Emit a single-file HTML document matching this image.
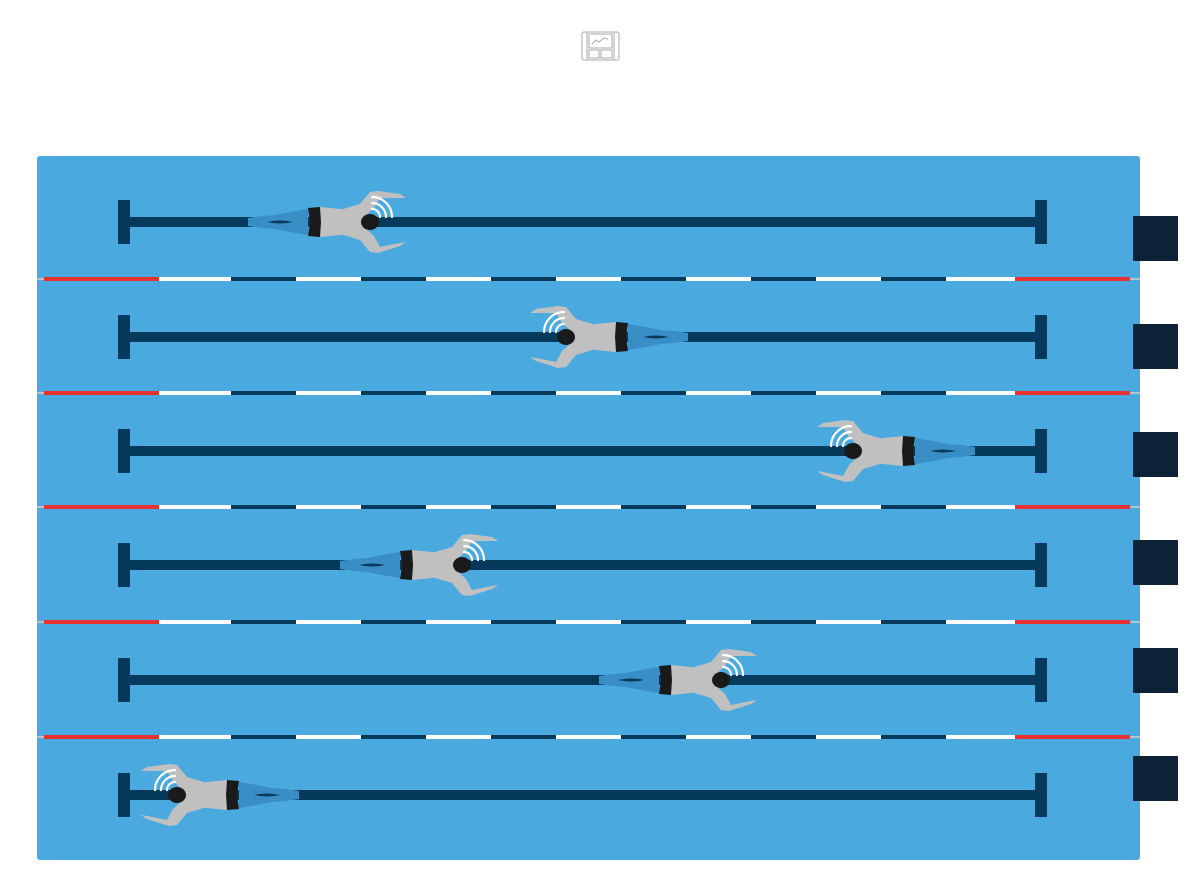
<!DOCTYPE html>
<html><head><meta charset="utf-8"><style>
html,body{margin:0;padding:0;background:#fff;width:1200px;height:895px;overflow:hidden}
</style></head><body>
<svg width="1200" height="895" viewBox="0 0 1200 895" xmlns="http://www.w3.org/2000/svg">
<g fill="none" stroke="#aaa" stroke-width="1">
  <rect x="582" y="32" width="37" height="28" rx="2"/>
  <line x1="587" y1="32" x2="587" y2="60"/><line x1="614" y1="32" x2="614" y2="60"/>
  <rect x="589" y="34" width="23" height="14"/>
  <rect x="589" y="50" width="10" height="8"/><rect x="601" y="50" width="11" height="8"/>
  <polyline points="592,44 596,40 599,42 604,38 608,39"/>
</g>
<rect x="37" y="156" width="1103" height="704" rx="3" fill="#4aaae0"/>

<!-- lane dividers -->
<g>
<line x1="37" y1="279" x2="1140" y2="279" stroke="#b0c4d0" stroke-width="2"/>
<line x1="37" y1="393" x2="1140" y2="393" stroke="#b0c4d0" stroke-width="2"/>
<line x1="37" y1="507" x2="1140" y2="507" stroke="#b0c4d0" stroke-width="2"/>
<line x1="37" y1="622" x2="1140" y2="622" stroke="#b0c4d0" stroke-width="2"/>
<line x1="37" y1="737" x2="1140" y2="737" stroke="#b0c4d0" stroke-width="2"/>
</g>
<g stroke-width="4">
<g stroke="#e83030">
<line x1="44" y1="279" x2="159" y2="279"/><line x1="1015" y1="279" x2="1130" y2="279"/>
<line x1="44" y1="393" x2="159" y2="393"/><line x1="1015" y1="393" x2="1130" y2="393"/>
<line x1="44" y1="507" x2="159" y2="507"/><line x1="1015" y1="507" x2="1130" y2="507"/>
<line x1="44" y1="622" x2="159" y2="622"/><line x1="1015" y1="622" x2="1130" y2="622"/>
<line x1="44" y1="737" x2="159" y2="737"/><line x1="1015" y1="737" x2="1130" y2="737"/>
</g>
<g stroke="#ffffff">
<line x1="159" y1="279" x2="1015" y2="279"/>
<line x1="159" y1="393" x2="1015" y2="393"/>
<line x1="159" y1="507" x2="1015" y2="507"/>
<line x1="159" y1="622" x2="1015" y2="622"/>
<line x1="159" y1="737" x2="1015" y2="737"/>
</g>
<g stroke="#053a5c" stroke-dasharray="65 65">
<line x1="231" y1="279" x2="946" y2="279"/>
<line x1="231" y1="393" x2="946" y2="393"/>
<line x1="231" y1="507" x2="946" y2="507"/>
<line x1="231" y1="622" x2="946" y2="622"/>
<line x1="231" y1="737" x2="946" y2="737"/>
</g>
</g>

<!-- ropes and bars -->
<g fill="#053a5c">
<rect x="118" y="200" width="12" height="44"/><rect x="1035" y="200" width="12" height="44"/><rect x="125" y="217" width="915" height="10"/>
<rect x="118" y="315" width="12" height="44"/><rect x="1035" y="315" width="12" height="44"/><rect x="125" y="332" width="915" height="10"/>
<rect x="118" y="429" width="12" height="44"/><rect x="1035" y="429" width="12" height="44"/><rect x="125" y="446" width="915" height="10"/>
<rect x="118" y="543" width="12" height="44"/><rect x="1035" y="543" width="12" height="44"/><rect x="125" y="560" width="915" height="10"/>
<rect x="118" y="658" width="12" height="44"/><rect x="1035" y="658" width="12" height="44"/><rect x="125" y="675" width="915" height="10"/>
<rect x="118" y="773" width="12" height="44"/><rect x="1035" y="773" width="12" height="44"/><rect x="125" y="790" width="915" height="10"/>
</g>
<g fill="#0d2137">
<rect x="1133" y="216" width="45" height="45"/>
<rect x="1133" y="324" width="45" height="45"/>
<rect x="1133" y="432" width="45" height="45"/>
<rect x="1133" y="540" width="45" height="45"/>
<rect x="1133" y="648" width="45" height="45"/>
<rect x="1133" y="756" width="45" height="45"/>
</g>

<!-- swimmers -->
<g transform="translate(370,222)">
  <path d="M-62,-13 L-80,-10 L-95,-7 L-108,-6 L-122,-4 L-122,4 L-108,6 L-95,7 L-80,10 L-62,13 Z" fill="#3a8ec6"/>
  <path d="M-103,0 Q-90,-3 -77,0 Q-90,3 -103,0 Z" fill="#0a3a5c"/>
  <path d="M-30,-12 L-10,-18 L0,-30 L8,-31 L30,-28 L36,-24 L30,-24 L10,-24 L4,-14 L-5,-6 Z" fill="#c0c0c0"/>
  <path d="M-30,12 L-10,18 L0,30 L8,31 L30,24 L36,20 L30,21 L10,25 L4,14 L-5,6 Z" fill="#c0c0c0"/>
  <path d="M-50,-15 L-30,-13 L-14,-9 L-6,-6 L-6,6 L-14,9 L-30,13 L-50,15 Z" fill="#c0c0c0"/>
  <path d="M-62,-14 L-50,-15 L-49,0 L-50,15 L-62,14 L-60,0 Z" fill="#1a1a1a"/>
  <ellipse cx="0" cy="0" rx="9" ry="8" fill="#1a1a1a"/>
  <g fill="none" stroke="#fff" stroke-width="2.2" stroke-linecap="round"><path d="M2,-13 A8,8 0 0 1 10,-5"/><path d="M2,-19 A14,14 0 0 1 16,-5"/><path d="M2,-25 A20,20 0 0 1 22,-5"/></g>
</g>
<g transform="translate(566,337) scale(-1,1)">
  <path d="M-62,-13 L-80,-10 L-95,-7 L-108,-6 L-122,-4 L-122,4 L-108,6 L-95,7 L-80,10 L-62,13 Z" fill="#3a8ec6"/>
  <path d="M-103,0 Q-90,-3 -77,0 Q-90,3 -103,0 Z" fill="#0a3a5c"/>
  <path d="M-30,-12 L-10,-18 L0,-30 L8,-31 L30,-28 L36,-24 L30,-24 L10,-24 L4,-14 L-5,-6 Z" fill="#c0c0c0"/>
  <path d="M-30,12 L-10,18 L0,30 L8,31 L30,24 L36,20 L30,21 L10,25 L4,14 L-5,6 Z" fill="#c0c0c0"/>
  <path d="M-50,-15 L-30,-13 L-14,-9 L-6,-6 L-6,6 L-14,9 L-30,13 L-50,15 Z" fill="#c0c0c0"/>
  <path d="M-62,-14 L-50,-15 L-49,0 L-50,15 L-62,14 L-60,0 Z" fill="#1a1a1a"/>
  <ellipse cx="0" cy="0" rx="9" ry="8" fill="#1a1a1a"/>
  <g fill="none" stroke="#fff" stroke-width="2.2" stroke-linecap="round"><path d="M2,-13 A8,8 0 0 1 10,-5"/><path d="M2,-19 A14,14 0 0 1 16,-5"/><path d="M2,-25 A20,20 0 0 1 22,-5"/></g>
</g>
<g transform="translate(853,451) scale(-1,1)">
  <path d="M-62,-13 L-80,-10 L-95,-7 L-108,-6 L-122,-4 L-122,4 L-108,6 L-95,7 L-80,10 L-62,13 Z" fill="#3a8ec6"/>
  <path d="M-103,0 Q-90,-3 -77,0 Q-90,3 -103,0 Z" fill="#0a3a5c"/>
  <path d="M-30,-12 L-10,-18 L0,-30 L8,-31 L30,-28 L36,-24 L30,-24 L10,-24 L4,-14 L-5,-6 Z" fill="#c0c0c0"/>
  <path d="M-30,12 L-10,18 L0,30 L8,31 L30,24 L36,20 L30,21 L10,25 L4,14 L-5,6 Z" fill="#c0c0c0"/>
  <path d="M-50,-15 L-30,-13 L-14,-9 L-6,-6 L-6,6 L-14,9 L-30,13 L-50,15 Z" fill="#c0c0c0"/>
  <path d="M-62,-14 L-50,-15 L-49,0 L-50,15 L-62,14 L-60,0 Z" fill="#1a1a1a"/>
  <ellipse cx="0" cy="0" rx="9" ry="8" fill="#1a1a1a"/>
  <g fill="none" stroke="#fff" stroke-width="2.2" stroke-linecap="round"><path d="M2,-13 A8,8 0 0 1 10,-5"/><path d="M2,-19 A14,14 0 0 1 16,-5"/><path d="M2,-25 A20,20 0 0 1 22,-5"/></g>
</g>
<g transform="translate(462,565)">
  <path d="M-62,-13 L-80,-10 L-95,-7 L-108,-6 L-122,-4 L-122,4 L-108,6 L-95,7 L-80,10 L-62,13 Z" fill="#3a8ec6"/>
  <path d="M-103,0 Q-90,-3 -77,0 Q-90,3 -103,0 Z" fill="#0a3a5c"/>
  <path d="M-30,-12 L-10,-18 L0,-30 L8,-31 L30,-28 L36,-24 L30,-24 L10,-24 L4,-14 L-5,-6 Z" fill="#c0c0c0"/>
  <path d="M-30,12 L-10,18 L0,30 L8,31 L30,24 L36,20 L30,21 L10,25 L4,14 L-5,6 Z" fill="#c0c0c0"/>
  <path d="M-50,-15 L-30,-13 L-14,-9 L-6,-6 L-6,6 L-14,9 L-30,13 L-50,15 Z" fill="#c0c0c0"/>
  <path d="M-62,-14 L-50,-15 L-49,0 L-50,15 L-62,14 L-60,0 Z" fill="#1a1a1a"/>
  <ellipse cx="0" cy="0" rx="9" ry="8" fill="#1a1a1a"/>
  <g fill="none" stroke="#fff" stroke-width="2.2" stroke-linecap="round"><path d="M2,-13 A8,8 0 0 1 10,-5"/><path d="M2,-19 A14,14 0 0 1 16,-5"/><path d="M2,-25 A20,20 0 0 1 22,-5"/></g>
</g>
<g transform="translate(721,680)">
  <path d="M-62,-13 L-80,-10 L-95,-7 L-108,-6 L-122,-4 L-122,4 L-108,6 L-95,7 L-80,10 L-62,13 Z" fill="#3a8ec6"/>
  <path d="M-103,0 Q-90,-3 -77,0 Q-90,3 -103,0 Z" fill="#0a3a5c"/>
  <path d="M-30,-12 L-10,-18 L0,-30 L8,-31 L30,-28 L36,-24 L30,-24 L10,-24 L4,-14 L-5,-6 Z" fill="#c0c0c0"/>
  <path d="M-30,12 L-10,18 L0,30 L8,31 L30,24 L36,20 L30,21 L10,25 L4,14 L-5,6 Z" fill="#c0c0c0"/>
  <path d="M-50,-15 L-30,-13 L-14,-9 L-6,-6 L-6,6 L-14,9 L-30,13 L-50,15 Z" fill="#c0c0c0"/>
  <path d="M-62,-14 L-50,-15 L-49,0 L-50,15 L-62,14 L-60,0 Z" fill="#1a1a1a"/>
  <ellipse cx="0" cy="0" rx="9" ry="8" fill="#1a1a1a"/>
  <g fill="none" stroke="#fff" stroke-width="2.2" stroke-linecap="round"><path d="M2,-13 A8,8 0 0 1 10,-5"/><path d="M2,-19 A14,14 0 0 1 16,-5"/><path d="M2,-25 A20,20 0 0 1 22,-5"/></g>
</g>
<g transform="translate(177,795) scale(-1,1)">
  <path d="M-62,-13 L-80,-10 L-95,-7 L-108,-6 L-122,-4 L-122,4 L-108,6 L-95,7 L-80,10 L-62,13 Z" fill="#3a8ec6"/>
  <path d="M-103,0 Q-90,-3 -77,0 Q-90,3 -103,0 Z" fill="#0a3a5c"/>
  <path d="M-30,-12 L-10,-18 L0,-30 L8,-31 L30,-28 L36,-24 L30,-24 L10,-24 L4,-14 L-5,-6 Z" fill="#c0c0c0"/>
  <path d="M-30,12 L-10,18 L0,30 L8,31 L30,24 L36,20 L30,21 L10,25 L4,14 L-5,6 Z" fill="#c0c0c0"/>
  <path d="M-50,-15 L-30,-13 L-14,-9 L-6,-6 L-6,6 L-14,9 L-30,13 L-50,15 Z" fill="#c0c0c0"/>
  <path d="M-62,-14 L-50,-15 L-49,0 L-50,15 L-62,14 L-60,0 Z" fill="#1a1a1a"/>
  <ellipse cx="0" cy="0" rx="9" ry="8" fill="#1a1a1a"/>
  <g fill="none" stroke="#fff" stroke-width="2.2" stroke-linecap="round"><path d="M2,-13 A8,8 0 0 1 10,-5"/><path d="M2,-19 A14,14 0 0 1 16,-5"/><path d="M2,-25 A20,20 0 0 1 22,-5"/></g>
</g>
</svg>
</body></html>
